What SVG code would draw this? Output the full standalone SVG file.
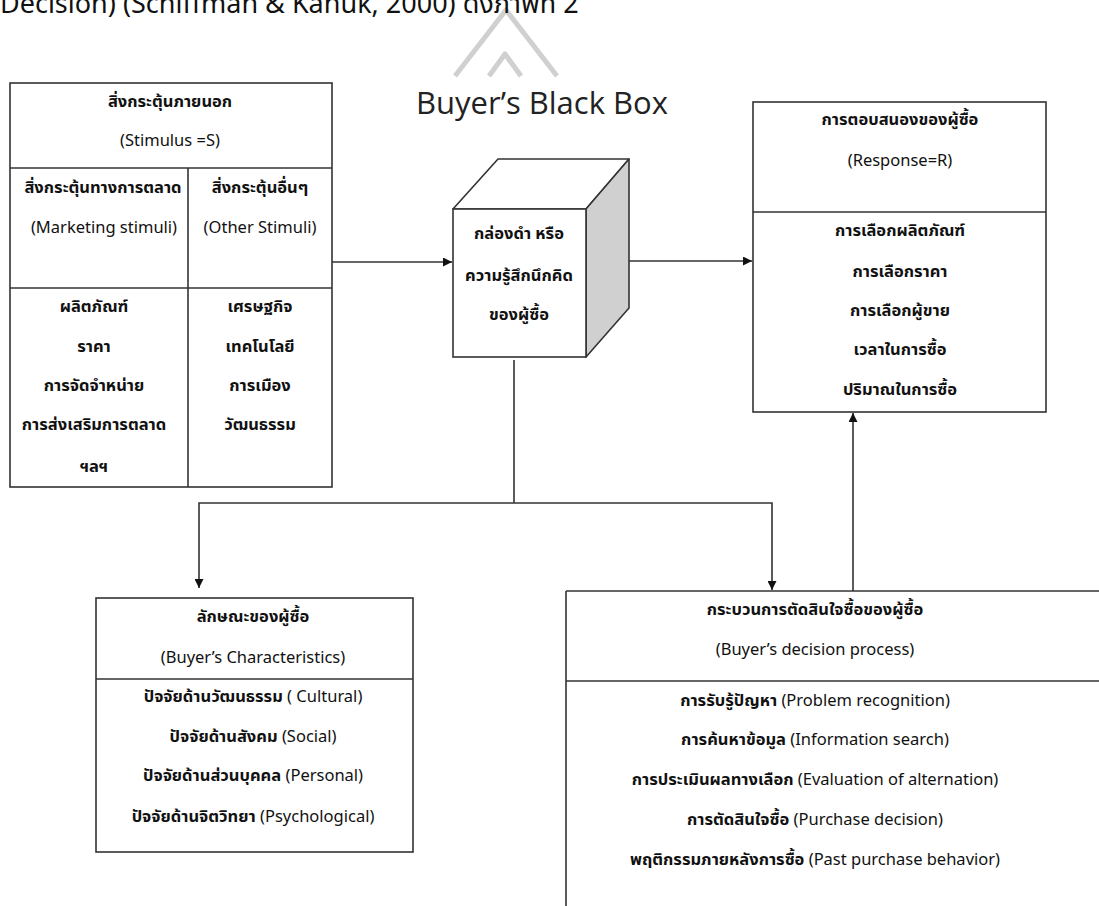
<svg xmlns="http://www.w3.org/2000/svg" width="1099" height="906" viewBox="0 0 1099 906">
  <defs>
    <style>
      .box { fill: #ffffff; stroke: #333333; stroke-width: 1.6; }
      .ln { fill: none; stroke: #333333; stroke-width: 1.6; }
      .t { font-family: "Noto Sans", "Noto Sans Thai", "Liberation Sans", sans-serif; font-size: 16.5px; fill: #111111; text-anchor: middle; }
      .th { font-weight: bold; }
      .wm { fill: none; stroke: #d0d0d0; stroke-width: 5; stroke-linejoin: round; }
    </style>
    <marker id="arr" viewBox="0 0 10 10" refX="10" refY="5" markerWidth="9" markerHeight="9" markerUnits="userSpaceOnUse" orient="auto">
      <path d="M0,0 L10,5 L0,10 z" fill="#111111"/>
    </marker>
  </defs>
  <rect width="1099" height="906" fill="#ffffff"/>

  <g id="watermark">
    <path class="wm" d="M455,76 L506,10 L557,76"/>
    <path class="wm" d="M489,76 L505,54 L521,76"/>
  </g>

  <g id="header">
    <text x="0" y="13" style="font-family: 'Noto Sans', 'Noto Sans Thai', sans-serif; font-size: 27px; fill: #111;">Decision) (Schiffman &amp; Kanuk, 2000) ดังภาพที่ 2</text>
  </g>

  <g id="title">
    <text x="542" y="114" style="font-family: 'Open Sans', 'Noto Sans', sans-serif; font-size: 31px; fill: #222; text-anchor: middle;">Buyer’s Black Box</text>
  </g>

  <g id="stimulus">
    <rect class="box" x="10" y="83" width="322" height="404"/>
    <line class="ln" x1="10" y1="168" x2="332" y2="168"/>
    <line class="ln" x1="10" y1="288" x2="332" y2="288"/>
    <line class="ln" x1="188" y1="168" x2="188" y2="487"/>
    <text class="t th" x="170" y="107">สิ่งกระตุ้นภายนอก</text>
    <text class="t" x="170" y="146">(Stimulus =S)</text>
    <text class="t th" x="103" y="193">สิ่งกระตุ้นทางการตลาด</text>
    <text class="t" x="104" y="233">(Marketing stimuli)</text>
    <text class="t th" x="260" y="193">สิ่งกระตุ้นอื่นๆ</text>
    <text class="t" x="260" y="233">(Other Stimuli)</text>
    <text class="t th" x="94" y="312">ผลิตภัณฑ์</text>
    <text class="t th" x="94" y="352">ราคา</text>
    <text class="t th" x="94" y="391">การจัดจำหน่าย</text>
    <text class="t th" x="94" y="430">การส่งเสริมการตลาด</text>
    <text class="t th" x="94" y="472">ฯลฯ</text>
    <text class="t th" x="260" y="312">เศรษฐกิจ</text>
    <text class="t th" x="260" y="352">เทคโนโลยี</text>
    <text class="t th" x="260" y="391">การเมือง</text>
    <text class="t th" x="260" y="430">วัฒนธรรม</text>
  </g>

  <g id="blackbox">
    <polygon points="453,209 498,159 629,159 586,209" fill="#ffffff" stroke="#333333" stroke-width="1.6" stroke-linejoin="round"/>
    <polygon points="586,209 629,159 629,308 586,357" fill="#d0d0d0" stroke="#333333" stroke-width="1.6" stroke-linejoin="round"/>
    <rect class="box" x="453" y="209" width="133" height="148"/>
    <text class="t th" x="519" y="239">กล่องดำ หรือ</text>
    <text class="t th" x="519" y="281">ความรู้สึกนึกคิด</text>
    <text class="t th" x="519" y="320">ของผู้ซื้อ</text>
  </g>

  <g id="response">
    <rect class="box" x="753" y="102" width="293" height="310"/>
    <line class="ln" x1="753" y1="212" x2="1046" y2="212"/>
    <text class="t th" x="900" y="125">การตอบสนองของผู้ซื้อ</text>
    <text class="t" x="900" y="166">(Response=R)</text>
    <text class="t th" x="900" y="236">การเลือกผลิตภัณฑ์</text>
    <text class="t th" x="900" y="277">การเลือกราคา</text>
    <text class="t th" x="900" y="316">การเลือกผู้ขาย</text>
    <text class="t th" x="900" y="355">เวลาในการซื้อ</text>
    <text class="t th" x="900" y="395">ปริมาณในการซื้อ</text>
  </g>

  <g id="characteristics">
    <rect class="box" x="96" y="598" width="317" height="254"/>
    <line class="ln" x1="96" y1="679" x2="413" y2="679"/>
    <text class="t th" x="253" y="622">ลักษณะของผู้ซื้อ</text>
    <text class="t" x="253" y="663">(Buyer’s Characteristics)</text>
    <text class="t" x="253" y="702"><tspan class="th">ปัจจัยด้านวัฒนธรรม</tspan> ( Cultural)</text>
    <text class="t" x="253" y="742"><tspan class="th">ปัจจัยด้านสังคม</tspan> (Social)</text>
    <text class="t" x="253" y="781"><tspan class="th">ปัจจัยด้านส่วนบุคคล</tspan> (Personal)</text>
    <text class="t" x="253" y="822"><tspan class="th">ปัจจัยด้านจิตวิทยา</tspan> (Psychological)</text>
  </g>

  <g id="decision">
    <line class="ln" x1="566" y1="591" x2="1099" y2="591"/>
    <line class="ln" x1="566" y1="591" x2="566" y2="906"/>
    <line class="ln" x1="566" y1="681" x2="1099" y2="681"/>
    <text class="t th" x="815" y="615">กระบวนการตัดสินใจซื้อของผู้ซื้อ</text>
    <text class="t" x="815" y="655">(Buyer’s decision process)</text>
    <text class="t" x="815" y="706"><tspan class="th">การรับรู้ปัญหา</tspan> (Problem recognition)</text>
    <text class="t" x="815" y="745"><tspan class="th">การค้นหาข้อมูล</tspan> (Information search)</text>
    <text class="t" x="815" y="785"><tspan class="th">การประเมินผลทางเลือก</tspan> (Evaluation of alternation)</text>
    <text class="t" x="815" y="825"><tspan class="th">การตัดสินใจซื้อ</tspan> (Purchase decision)</text>
    <text class="t" x="815" y="865"><tspan class="th">พฤติกรรมภายหลังการซื้อ</tspan> (Past purchase behavior)</text>
  </g>

  <g id="connectors">
    <line class="ln" x1="332" y1="262" x2="452" y2="262" marker-end="url(#arr)"/>
    <line class="ln" x1="629" y1="261" x2="752" y2="261" marker-end="url(#arr)"/>
    <polyline class="ln" points="514,360 514,503"/>
    <polyline class="ln" points="514,503 199,503 199,588" marker-end="url(#arr)"/>
    <polyline class="ln" points="514,503 772,503 772,590" marker-end="url(#arr)"/>
    <line class="ln" x1="853" y1="591" x2="853" y2="413" marker-end="url(#arr)"/>
  </g>
</svg>
